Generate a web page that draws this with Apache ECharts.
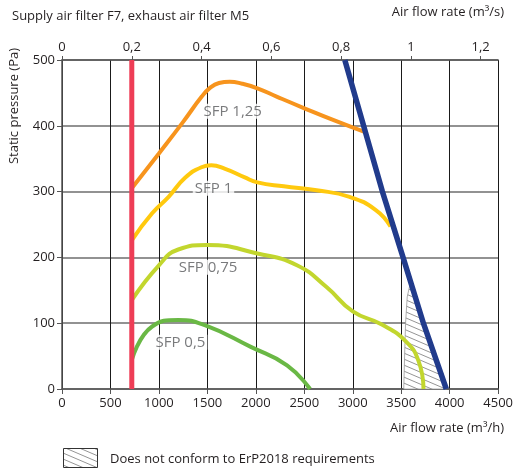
<!DOCTYPE html>
<html>
<head>
<meta charset="utf-8">
<script src="https://cdn.jsdelivr.net/npm/echarts@6/dist/echarts.min.js"></script>
<style>
html,body{margin:0;padding:0;background:#fff;}
#chart{width:516px;height:468px;}
</style>
</head>
<body>
<div id="chart"></div>
<script>
// ---- data ----
var xTicksBottom = [0, 500, 1000, 1500, 2000, 2500, 3000, 3500, 4000, 4500];
var xTicksTop = [0, 0.2, 0.4, 0.6, 0.8, 1, 1.2];
var yTicks = [0, 100, 200, 300, 400, 500];

var minFlow = [[720, 0], [720, 500]];
var maxLine = [[2918, 500], [3306, 300], [3519, 200], [3729, 100], [3965, 0]];

var sfp125 = [[720, 305], [1000, 358], [1250, 406], [1440, 444], [1530, 458], [1620, 465], [1730, 467], [1860, 464], [2016, 457], [2220, 444], [2495, 427], [2830, 407], [3115, 391]];
var sfp1 = [[720, 226], [930, 267], [1100, 292], [1270, 321], [1439, 337], [1541, 340], [1677, 335], [1880, 322], [2016, 314], [2288, 308], [2627, 302], [2967, 292], [3238, 272], [3390, 247]];
var sfp075 = [[720, 135], [1000, 188], [1200, 212], [1500, 219], [2016, 206], [2424, 188], [2729, 155], [3000, 118], [3300, 98], [3550, 72], [3680, 42], [3730, 0]];
var sfp05 = [[720, 44], [930, 95], [1200, 105], [1473, 97], [1948, 64], [2322, 36], [2559, 0]];

var hatchArea = [[3526, 0], [3535, 50], [3545, 100], [3562, 140], [3595, 162], [3729, 100], [3965, 0]];

var curveNames = ['SFP 1,25', 'SFP 1', 'SFP 0,75', 'SFP 0,5'];
var curveLabelAt = [[1761, 422], [1563, 305], [1507, 185], [1222, 71]];

var titleText = 'Supply air filter F7, exhaust air filter M5';
var topAxisName = 'Air flow rate (m³/s)';
var bottomAxisName = 'Air flow rate (m³/h)';
var yAxisName = 'Static pressure (Pa)';
var legendText = 'Does not conform to ErP2018 requirements';

// ---- rendering ----
var FONT = 'Open Sans';
function makeHatch(){
  var w = 14, h = 6;
  var c = document.createElement('canvas');
  c.width = w; c.height = h;
  var g = c.getContext('2d');
  g.fillStyle = '#fff';
  g.fillRect(0,0,w,h);
  g.strokeStyle = '#7a7a7a';
  g.lineWidth = 0.8;
  [-h, 0, h].forEach(function(off){
    g.beginPath();
    g.moveTo(0, off);
    g.lineTo(w, off + h);
    g.stroke();
  });
  return {image: c, repeat: 'repeat'};
}
var hatch = makeHatch();

var chart = echarts.init(document.getElementById('chart'));

function lineSeries(name, data, color, width, smooth){
  return {
    name: name, type: 'line', data: data, symbol: 'none',
    smooth: smooth,
    lineStyle: {color: color, width: width, cap: 'butt'},
    xAxisIndex: 0, yAxisIndex: 0, z: 3
  };
}
function plain(v){ return String(Math.round(v*10)/10).replace('.', ','); }

var option = {
  animation: false,
  backgroundColor: '#fff',
  textStyle: {fontFamily: FONT},
  grid: {left: 62, right: 12, top: 60, bottom: 79, containLabel: false},
  xAxis: [
    {
      type: 'value', position: 'bottom', min: 0, max: 4500, interval: 500,
      axisLine: {show: true, lineStyle: {color: '#555', width: 1.5}},
      axisTick: {show: true, length: 5, lineStyle: {color: '#555', width: 1}},
      axisLabel: {fontSize: 13, color: '#231f20', margin: 8, fontFamily: FONT, formatter: plain},
      splitLine: {show: true, lineStyle: {color: '#1a1a1a', width: 1}}
    },
    {
      type: 'value', position: 'top', min: 0, max: 1.25, interval: 0.2,
      axisLine: {show: true, lineStyle: {color: '#555', width: 1.5}},
      axisTick: {show: true, length: 4, lineStyle: {color: '#555', width: 1}},
      axisLabel: {fontSize: 13, color: '#231f20', margin: 6, fontFamily: FONT, showMaxLabel: false, formatter: plain},
      splitLine: {show: false}
    }
  ],
  yAxis: {
    type: 'value', min: 0, max: 500, interval: 100,
    axisLine: {show: true, lineStyle: {color: '#555', width: 1.5}},
    axisTick: {show: true, length: 5, lineStyle: {color: '#555', width: 1}},
    axisLabel: {fontSize: 13, color: '#231f20', margin: 7, fontFamily: FONT, formatter: plain},
    splitLine: {show: true, lineStyle: {color: '#6e6e6e', width: 1.6}}
  },
  title: {
    text: titleText, left: 7, top: 5,
    textStyle: {fontSize: 13, fontWeight: 'normal', color: '#231f20', fontFamily: FONT}
  },
  graphic: [
    {type: 'text', right: 12, top: 6, style: {text: topAxisName, fontSize: 13, fill: '#231f20', fontFamily: FONT}},
    {type: 'text', right: 12, top: 422, style: {text: bottomAxisName, fontSize: 13, fill: '#231f20', fontFamily: FONT}},
    {type: 'text', x: 14, y: 106, rotation: Math.PI/2,
      style: {text: yAxisName, fontSize: 13, fill: '#231f20', fontFamily: FONT, align: 'center', verticalAlign: 'middle'}},
    {type: 'rect', shape: {x: 63.5, y: 448.5, width: 34, height: 19},
      style: {fill: hatch, stroke: '#333', lineWidth: 1}},
    {type: 'text', x: 110, y: 459, style: {text: legendText, fontSize: 13, fill: '#231f20', fontFamily: FONT, verticalAlign: 'middle'}}
  ],
  series: [
    {
      type: 'custom', name: 'hatch', coordinateSystem: 'cartesian2d', xAxisIndex: 0, yAxisIndex: 0,
      data: [hatchArea[0]], z: 2, silent: true,
      renderItem: function(params, api){
        var pts = hatchArea.map(function(p){ return api.coord(p); });
        return {type: 'polygon', shape: {points: pts}, style: {fill: hatch, stroke: '#999', lineWidth: 0.8}};
      }
    },
    lineSeries('SFP 1,25', sfp125, '#f7941d', 4, 0.5),
    lineSeries('SFP 1', sfp1, '#ffc90e', 4, 0.5),
    lineSeries('SFP 0,75', sfp075, '#c2d62e', 4, 0.5),
    lineSeries('SFP 0,5', sfp05, '#6ab845', 4, 0.5),
    lineSeries('min', minFlow, '#ee3d56', 5, false),
    lineSeries('max', maxLine, '#213b8c', 5.5, false),
    {
      type: 'scatter', name: 'labels', symbolSize: 0, z: 5,
      data: curveLabelAt.map(function(p, i){ return {value: p, name: curveNames[i]}; }),
      label: {show: true, position: 'inside', formatter: '{b}', fontSize: 15, color: '#58595b',
        fontFamily: FONT, backgroundColor: '#fff', padding: [0, 2]}
    }
  ]
};
chart.setOption(option);
</script>
</body>
</html>
